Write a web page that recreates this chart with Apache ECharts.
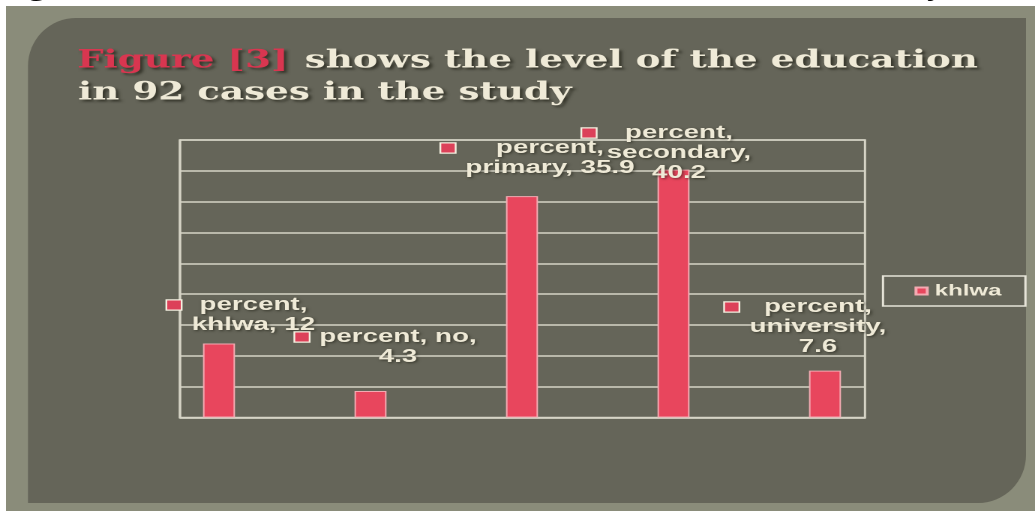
<!DOCTYPE html>
<html>
<head>
<meta charset="utf-8">
<script src="https://cdn.jsdelivr.net/npm/echarts@6/dist/echarts.min.js"></script>
<style>
  html, body { margin: 0; padding: 0; background: #ffffff; overflow: hidden; }
  #c { width: 690px; height: 511px; transform: scaleX(1.5); transform-origin: 0 0; }
</style>
</head>
<body>
<div id="c"></div>
<script>
// ---------------- data ----------------
const categories = ['khlwa', 'no', 'primary', 'secondary', 'university'];
const percentValues = [12, 4.3, 35.9, 40.2, 7.6];
const legendName = 'khlwa';
const labelPrefix = 'percent';
const yMin = 0, yMax = 45, yInterval = 5;
const titleRed = 'Figure [3]';
const titleRest = 'shows the level of the education';
const titleLine2 = 'in 92 cases in the study';
const captionText = 'Figure [3] shows the level of the education in 92 cases in the study';

// ---------------- layout (screen px) ----------------
const S = 1.5;                       // horizontal stretch of the slide image
const labelWrap = [[1, 2], [2, 1], [1, 2], [1, 1, 1], [1, 1, 1]];
const labelAnchor = [[253.5, 305], [398, 337], [550, 148], [679, 133], [818, 307]];

const CREAM = '#efead7';
const GRID_C = '#d6d4c6';
const BAR_C = '#e8465d';
const LBL_FAMILY = '"Liberation Sans", Arial, sans-serif';
const LBL_SIZE = 18.5;
const LBL_FONT = 'bold ' + LBL_SIZE + 'px ' + LBL_FAMILY;
const LH = 20, SQW = 9, GW = 6;

const mctx = document.createElement('canvas').getContext('2d');
function measure(t, font) { mctx.font = font; return mctx.measureText(t).width; }

function labelLines(i) {
  const toks = [labelPrefix + ',', categories[i] + ',', String(percentValues[i])];
  const out = []; let k = 0;
  for (const n of labelWrap[i]) { out.push(toks.slice(k, k + n).join(' ')); k += n; }
  return out;
}
const labelTexts = categories.map((c, i) => labelLines(i).map((l, j) => (j === 0 ? '{sq| }{g| }' : '{e| }') + '{t|' + l + '}').join('\n'));
const labelWidths = categories.map((c, i) => Math.ceil(Math.max(...labelLines(i).map(l => measure(l, LBL_FONT)))) + 2);

function richFor(i) {
  return {
    sq: { width: SQW, height: 9, lineHeight: LH, backgroundColor: '#dc4159', borderColor: '#f4f0e0', borderWidth: 1.2, fontSize: 10 },
    g: { width: GW, lineHeight: LH, fontSize: 10 },
    e: { width: SQW + GW, lineHeight: LH, fontSize: 10 },
    t: { width: labelWidths[i], align: 'center', lineHeight: LH, fontSize: LBL_SIZE, fontWeight: 'bold', fontFamily: LBL_FAMILY,
         color: CREAM, textShadowColor: 'rgba(20,20,10,0.55)', textShadowBlur: 2, textShadowOffsetX: 1, textShadowOffsetY: 1 }
  };
}

// ---------------- title / background (screen coords) ----------------
const TITLE_FONT = 'bold 25px "DejaVu Serif", serif';
const wRed = measure(titleRed, TITLE_FONT), wRest = measure(titleRest, TITLE_FONT);
const kT = (978 - 77 - 16) / (wRed + wRest);
const CAP_FONT = 'bold 26px "Liberation Serif", serif';
const cw1 = measure('Figure ', CAP_FONT);
const cw2 = measure(captionText.slice(0, -1), CAP_FONT);
const kC = (927 - 102) / (cw2 - cw1);
const cx0 = 102 - cw1 * kC;
const shadow = { textShadowColor: 'rgba(25,25,15,0.6)', textShadowBlur: 2, textShadowOffsetX: 2, textShadowOffsetY: 2 };

const graphics = [{
  type: 'group', x: 0, y: 0, scaleX: 1 / S, silent: true, z: -10,
  children: [
    { type: 'rect', z: -10, shape: { x: 6, y: 6, width: 1029, height: 505 }, style: { fill: '#8a8c7a' } },
    { type: 'rect', z: -9, shape: { x: 28, y: 18, width: 998, height: 485, r: [48, 0, 48, 0] }, style: { fill: '#656559' } },
    { type: 'text', z: -8, x: cx0, y: -11, scaleX: kC, style: { text: captionText, font: CAP_FONT, fill: '#000', verticalAlign: 'middle', align: 'left' } },
    { type: 'text', z: -8, x: 77, y: 61, scaleX: kT, style: Object.assign({ text: titleRed, font: TITLE_FONT, fill: '#d83650', verticalAlign: 'middle', align: 'left' }, shadow) },
    { type: 'text', z: -8, x: 77 + wRed * kT + 16, y: 61, scaleX: kT, style: Object.assign({ text: titleRest, font: TITLE_FONT, fill: CREAM, verticalAlign: 'middle', align: 'left' }, shadow) },
    { type: 'text', z: -8, x: 78, y: 93, scaleX: kT, style: Object.assign({ text: titleLine2, font: TITLE_FONT, fill: CREAM, verticalAlign: 'middle', align: 'left' }, shadow) }
  ]
}];

// ---------------- chart ----------------
const chart = echarts.init(document.getElementById('c'), null, { renderer: 'canvas', devicePixelRatio: 2 });
const option = {
  animation: false,
  backgroundColor: 'transparent',
  graphic: graphics,
  legend: {
    data: [legendName], left: 883 / S, top: 276, padding: [7, 16, 7, 21],
    borderColor: '#e6e4d8', borderWidth: 1.5, itemWidth: 7.5, itemHeight: 7, icon: 'rect',
    textStyle: { color: CREAM, fontWeight: 'bold', fontSize: 16, fontFamily: LBL_FAMILY }
  },
  grid: [
    { left: 180 / S, right: 690 - 865 / S, top: 140, bottom: 511 - 417.5, show: true, borderColor: GRID_C, borderWidth: 1.5, backgroundColor: 'transparent' },
    { left: 143.25 / S, right: 690 - 900.75 / S, top: 140, bottom: 511 - 417.5 }
  ],
  xAxis: [
    { type: 'category', gridIndex: 0, data: categories, axisLine: { show: true, lineStyle: { color: GRID_C, width: 1.5 } },
      axisTick: { show: false }, axisLabel: { show: false }, splitLine: { show: false } },
    { type: 'category', gridIndex: 1, data: categories, show: false }
  ],
  yAxis: [
    { type: 'value', gridIndex: 0, min: yMin, max: yMax, interval: yInterval, axisLine: { show: true, lineStyle: { color: GRID_C, width: 1.5 } },
      axisTick: { show: false }, axisLabel: { show: false }, splitLine: { show: true, lineStyle: { color: GRID_C, width: 1.5 } } },
    { type: 'value', gridIndex: 1, min: yMin, max: yMax, interval: yInterval, show: false, splitLine: { show: false } }
  ],
  series: [{
    id: 'bars', name: legendName, type: 'bar', xAxisIndex: 1, yAxisIndex: 1, barWidth: 32 / S,
    itemStyle: { color: BAR_C, borderColor: '#f3aab2', borderWidth: 1 },
    label: { show: false },
    data: percentValues.slice()
  }]
};
chart.setOption(option);

// second pass: place the data labels like the reference
const items = percentValues.map((v, i) => {
  const pt = chart.convertToPixel({ gridIndex: 1 }, [i, v]);
  const n = labelWrap[i].length;
  const ox = labelAnchor[i][0] / S - (SQW + GW) / 2 - pt[0];
  const oy = labelAnchor[i][1] - LH / 2 + LH * n - pt[1];
  return {
    value: v,
    label: { show: true, position: 'top', distance: 0, offset: [ox, oy], formatter: labelTexts[i], rich: richFor(i) }
  };
});
chart.setOption({ series: [{ id: 'bars', data: items }] });
</script>
</body>
</html>
